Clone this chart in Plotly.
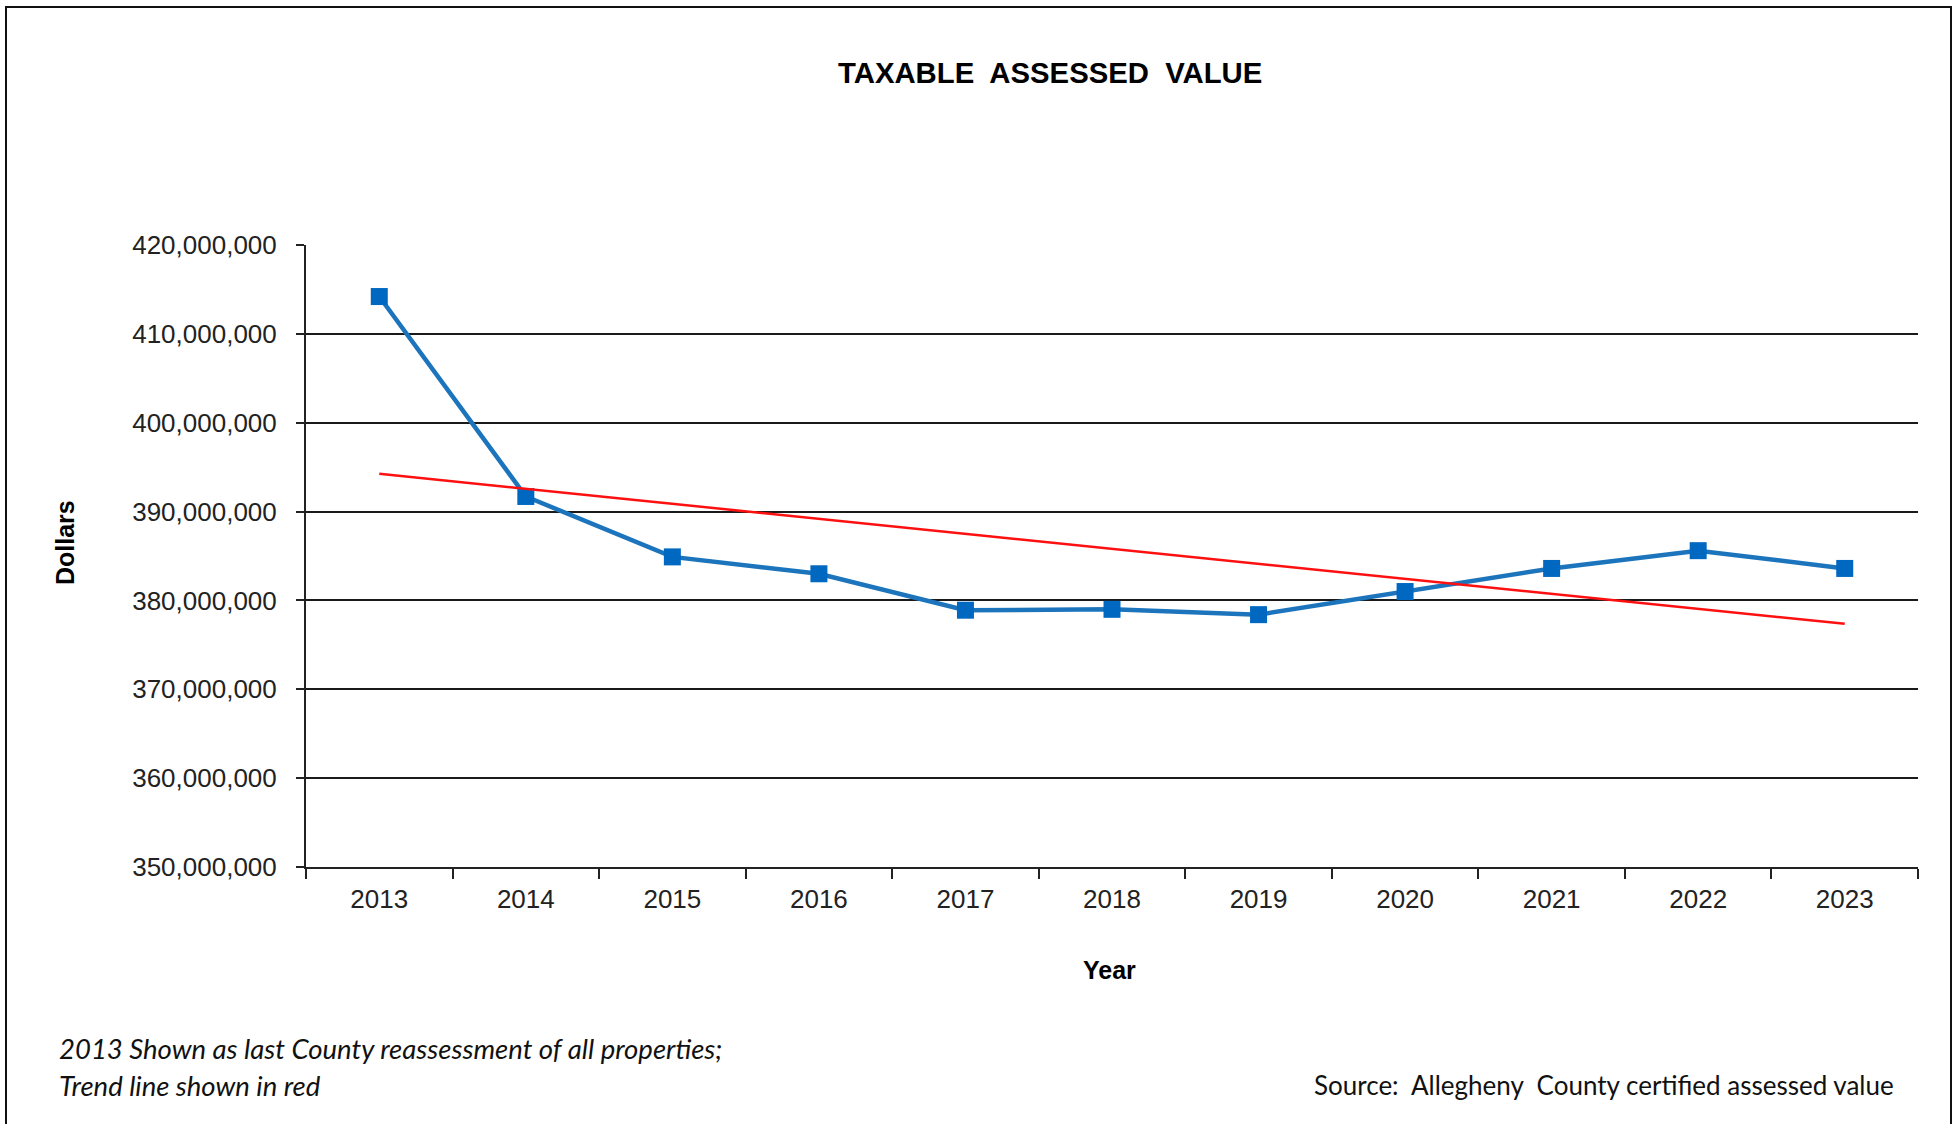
import numpy as np
import plotly.graph_objects as go

# ---- data ----
years = ["2013", "2014", "2015", "2016", "2017", "2018", "2019", "2020", "2021", "2022", "2023"]
assessed_value = [414.2e6, 391.7e6, 384.9e6, 383.0e6, 378.9e6, 379.0e6, 378.4e6, 381.0e6, 383.6e6, 385.6e6, 383.6e6]
y_ticks = [350e6, 360e6, 370e6, 380e6, 390e6, 400e6, 410e6, 420e6]
grid_vals = [360e6, 370e6, 380e6, 390e6, 400e6, 410e6]

# linear trend line (least squares fit of the series)
idx = np.arange(len(years))
slope, intercept = np.polyfit(idx, assessed_value, 1)
trend = list(slope * idx + intercept)

# ---- layout geometry (pixels) ----
W, H = 1958, 1124
L, R, T, B = 306, 1918, 245, 867


def px(x):
    return (x - L) / (R - L)


def py(y):
    return (B - y) / (B - T)


fig = go.Figure()
fig.add_trace(go.Scatter(
    x=years, y=assessed_value, mode="lines+markers",
    line=dict(color="#1c75bc", width=4.5),
    marker=dict(symbol="square", size=17, color="#0068c0"),
    showlegend=False, cliponaxis=False,
))
fig.add_trace(go.Scatter(
    x=years, y=trend, mode="lines",
    line=dict(color="#ff1010", width=2.5),
    showlegend=False,
))

tick_font = dict(family="Liberation Sans, Arial, sans-serif", size=26, color="#222222")

fig.update_layout(
    width=W, height=H,
    margin=dict(l=L, r=W - R, t=T, b=H - B, pad=0),
    paper_bgcolor="white", plot_bgcolor="white",
    separators=".,",
    xaxis=dict(
        type="category", range=[-0.5, len(years) - 0.5],
        showgrid=False, zeroline=False,
        showline=True, linecolor="#222222", linewidth=2,
        ticks="outside", tickson="boundaries", ticklen=10, tickwidth=2, tickcolor="#222222",
        tickfont=tick_font, ticklabelstandoff=8,
    ),
    yaxis=dict(
        range=[350e6, 420e6], tickvals=y_ticks, tickformat=",d",
        showgrid=False, zeroline=False,
        showline=True, linecolor="#222222", linewidth=2,
        ticks="outside", ticklen=8, tickwidth=2, tickcolor="#222222",
        tickfont=tick_font, ticklabelstandoff=14,
        minor=dict(tickvals=grid_vals, showgrid=True, gridcolor="#1a1a1a", gridwidth=2, ticks=""),
    ),
)

ann_common = dict(xref="paper", yref="paper", showarrow=False)
fig.add_annotation(text="<b>TAXABLE  ASSESSED  VALUE</b>", x=px(1050), y=py(72),
                   xanchor="center", yanchor="middle",
                   font=dict(family="Liberation Sans, Arial, sans-serif", size=29.3, color="#000000"), **ann_common)
fig.add_annotation(text="<b>Year</b>", x=px(1109), y=py(970), xanchor="center", yanchor="middle",
                   font=dict(family="Liberation Sans, Arial, sans-serif", size=25, color="#000000"), **ann_common)
fig.add_annotation(text="<b>Dollars</b>", x=px(65), y=py(543), xanchor="center", yanchor="middle",
                   textangle=-90,
                   font=dict(family="Liberation Sans, Arial, sans-serif", size=25, color="#000000"), **ann_common)
foot_font = dict(family="Lato, Carlito, sans-serif", size=27.5, color="#111111")
src_font = dict(family="Lato, Carlito, sans-serif", size=26, color="#111111")
fig.add_annotation(text="<i>2013 Shown as last County reassessment of all properties;</i>",
                   x=px(57), y=py(1048), xanchor="left", yanchor="middle", font=foot_font, **ann_common)
fig.add_annotation(text="<i>Trend line shown in red</i>",
                   x=px(57), y=py(1085), xanchor="left", yanchor="middle", font=foot_font, **ann_common)
fig.add_annotation(text="Source:\u00a0\u00a0Allegheny\u00a0\u00a0County certified assessed value",
                   x=px(1896), y=py(1085), xanchor="right", yanchor="middle", font=src_font, **ann_common)

# outer frame
fig.add_shape(type="rect", xref="paper", yref="paper",
              x0=px(6), x1=px(1951), y0=py(1140), y1=py(7),
              line=dict(color="#111111", width=2), fillcolor="rgba(0,0,0,0)", layer="below")

fig.write_html("out.html")
